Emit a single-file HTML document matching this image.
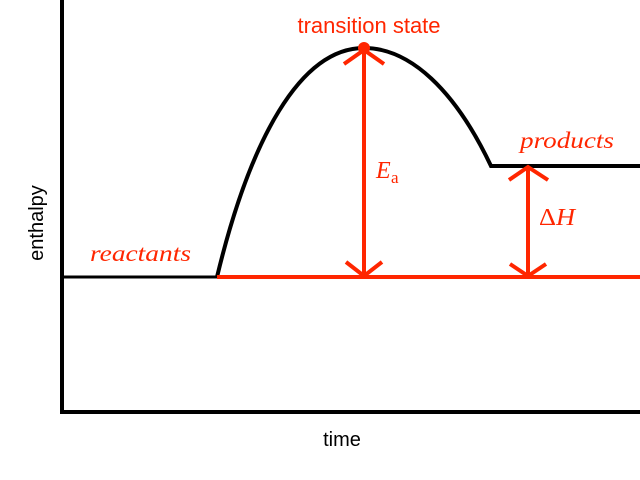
<!DOCTYPE html>
<html><head><style>body{margin:0;background:#fff}svg{display:block}</style></head><body>
<svg width="640" height="480" xmlns="http://www.w3.org/2000/svg">
<g stroke="#000" stroke-width="4" fill="none">
<line x1="62" y1="0" x2="62" y2="414"/>
<line x1="60" y1="412" x2="640" y2="412"/>
<line x1="62" y1="277" x2="218" y2="277" stroke-width="3"/>
<path d="M217,277 C250,140 300,48 364,48 C410,48 455,90 491,166 L640,166" stroke-width="4"/>
</g>
<g stroke="#ff2600" stroke-width="4" fill="none">
<line x1="217" y1="277" x2="640" y2="277"/>
<line x1="364" y1="50" x2="364" y2="277"/>
<polyline points="344,64 364,50 384,64"/>
<polyline points="346,262 364,276 382,262"/>
<line x1="528" y1="167" x2="528" y2="277"/>
<polyline points="509,180 528,167 548,180"/>
<polyline points="510,264 528,276 546,264"/>
</g>
<circle cx="364" cy="48" r="6" fill="#ff2600"/>
<g fill="#ff2600">
<text x="369" y="33" font-family="Liberation Sans, sans-serif" font-size="22" text-anchor="middle">transition state</text>
<text x="90" y="261" font-family="Liberation Serif, serif" font-style="italic" font-size="23" textLength="101" lengthAdjust="spacingAndGlyphs">reactants</text>
<text x="520" y="148" font-family="Liberation Serif, serif" font-style="italic" font-size="23" textLength="94" lengthAdjust="spacingAndGlyphs">products</text>
<text x="376" y="178" font-family="Liberation Serif, serif" font-style="italic" font-size="24">E</text>
<text x="391" y="183" font-family="Liberation Serif, serif" font-size="17">a</text>
<text x="539" y="225" font-family="Liberation Serif, serif" font-size="24" textLength="36" lengthAdjust="spacingAndGlyphs">Δ<tspan font-style="italic">H</tspan></text>
</g>
<text x="342" y="446" font-family="Liberation Sans, sans-serif" font-size="20" text-anchor="middle">time</text>
<text transform="translate(43,223) rotate(-90)" font-family="Liberation Sans, sans-serif" font-size="20" text-anchor="middle">enthalpy</text>
</svg>
</body></html>
